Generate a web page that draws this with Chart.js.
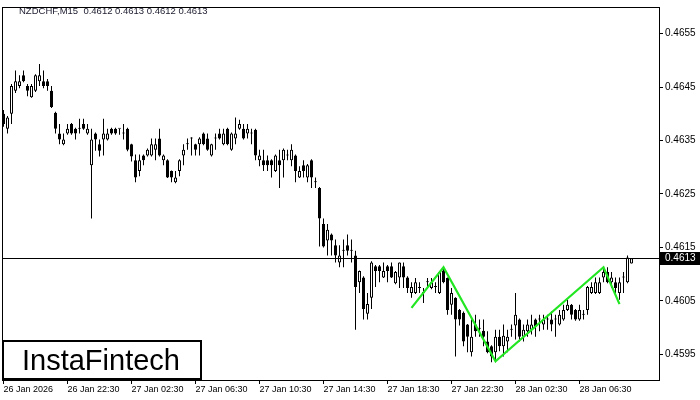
<!DOCTYPE html>
<html>
<head>
<meta charset="utf-8">
<script src="https://cdn.jsdelivr.net/npm/chart.js@4.4.1/dist/chart.umd.min.js"></script>
<style>
  html, body { margin: 0; padding: 0; background: #fff; }
  #wrap { width: 700px; height: 400px; }
</style>
</head>
<body>
<div id="wrap"><canvas id="chart" width="700" height="400"></canvas></div>
<script>
// ---------- data (M15 bars, 26 Jan 18:30 onwards) ----------
const headerText = "NZDCHF,M15  0.4612 0.4613 0.4612 0.4613";
const brandText = "InstaFintech";

const opens = [
  0.46400, 0.46372, 0.46400, 0.46443, 0.46452, 0.46472, 0.46452, 0.46431, 0.46443, 0.46461,
  0.46461, 0.46461, 0.46443, 0.46402, 0.46363, 0.46343, 0.46363, 0.46381, 0.46372, 0.46372,
  0.46381, 0.46363, 0.46304, 0.46363, 0.46343, 0.46352, 0.46352, 0.46372, 0.46372, 0.46372,
  0.46363, 0.46372, 0.46343, 0.46313, 0.46293, 0.46322, 0.46322, 0.46322, 0.46333, 0.46354,
  0.46313, 0.46313, 0.46293, 0.46272, 0.46293, 0.46322, 0.46343, 0.46354, 0.46343, 0.46343,
  0.46363, 0.46354, 0.46322, 0.46354, 0.46363, 0.46343, 0.46372, 0.46333, 0.46354, 0.46372,
  0.46372, 0.46363, 0.46363, 0.46370, 0.46313, 0.46313, 0.46313, 0.46313, 0.46293, 0.46313,
  0.46313, 0.46322, 0.46313, 0.46322, 0.46281, 0.46304, 0.46281, 0.46313, 0.46272, 0.46261,
  0.46194, 0.46163, 0.46174, 0.46154, 0.46122, 0.46144, 0.46154, 0.46144, 0.46135, 0.46085,
  0.46094, 0.46026, 0.46056, 0.46115, 0.46115, 0.46094, 0.46115, 0.46115, 0.46083, 0.46094,
  0.46115, 0.46094, 0.46065, 0.46065, 0.46074, 0.46065, 0.46085, 0.46074, 0.46076, 0.46065,
  0.46107, 0.46093, 0.46043, 0.46056, 0.46033, 0.46028, 0.46006, 0.45954, 0.46006, 0.45998,
  0.45994, 0.45974, 0.45965, 0.45954, 0.45983, 0.45965, 0.45974, 0.45996, 0.46004, 0.46015,
  0.45983, 0.45993, 0.45996, 0.46015, 0.46015, 0.46006, 0.46015, 0.46015, 0.46015, 0.46006,
  0.46015, 0.46033, 0.46043, 0.46033, 0.46015, 0.46024, 0.46033, 0.46065, 0.46065, 0.46065,
  0.46094, 0.46104, 0.46085, 0.46085, 0.46065, 0.46094, 0.46085, 0.46120
];
const highs = [
  0.46407, 0.46396, 0.46456, 0.46481, 0.46472, 0.46481, 0.46456, 0.46456, 0.46474, 0.46493,
  0.46481, 0.46465, 0.46452, 0.46404, 0.46381, 0.46363, 0.46381, 0.46383, 0.46374, 0.46391,
  0.46391, 0.46381, 0.46372, 0.46365, 0.46352, 0.46391, 0.46372, 0.46374, 0.46374, 0.46372,
  0.46381, 0.46374, 0.46344, 0.46324, 0.46324, 0.46324, 0.46335, 0.46354, 0.46354, 0.46372,
  0.46324, 0.46315, 0.46294, 0.46293, 0.46315, 0.46343, 0.46354, 0.46356, 0.46344, 0.46356,
  0.46365, 0.46363, 0.46344, 0.46363, 0.46372, 0.46372, 0.46374, 0.46365, 0.46393, 0.46389,
  0.46381, 0.46381, 0.46372, 0.46372, 0.46333, 0.46333, 0.46322, 0.46315, 0.46324, 0.46333,
  0.46335, 0.46333, 0.46343, 0.46324, 0.46302, 0.46313, 0.46306, 0.46315, 0.46281, 0.46263,
  0.46204, 0.46194, 0.46176, 0.46165, 0.46154, 0.46165, 0.46174, 0.46165, 0.46144, 0.46107,
  0.46096, 0.46065, 0.46124, 0.46117, 0.46117, 0.46122, 0.46117, 0.46122, 0.46106, 0.46122,
  0.46122, 0.46096, 0.46085, 0.46093, 0.46085, 0.46074, 0.46093, 0.46093, 0.46085, 0.46106,
  0.46115, 0.46094, 0.46074, 0.46057, 0.46035, 0.46030, 0.46007, 0.46015, 0.46024, 0.46015,
  0.46015, 0.45993, 0.45967, 0.45996, 0.45996, 0.46006, 0.45996, 0.46006, 0.46065, 0.46017,
  0.46006, 0.46015, 0.46024, 0.46017, 0.46024, 0.46024, 0.46024, 0.46030, 0.46024, 0.46033,
  0.46043, 0.46052, 0.46044, 0.46035, 0.46043, 0.46033, 0.46078, 0.46085, 0.46094, 0.46094,
  0.46113, 0.46113, 0.46104, 0.46094, 0.46094, 0.46104, 0.46135, 0.46130
];
const lows = [
  0.46376, 0.46363, 0.46381, 0.46439, 0.46448, 0.46459, 0.46433, 0.46430, 0.46441, 0.46452,
  0.46448, 0.46443, 0.46411, 0.46363, 0.46343, 0.46341, 0.46361, 0.46361, 0.46352, 0.46363,
  0.46370, 0.46361, 0.46204, 0.46331, 0.46320, 0.46322, 0.46350, 0.46361, 0.46361, 0.46361,
  0.46352, 0.46330, 0.46311, 0.46272, 0.46283, 0.46304, 0.46320, 0.46320, 0.46313, 0.46320,
  0.46304, 0.46280, 0.46272, 0.46270, 0.46283, 0.46304, 0.46333, 0.46322, 0.46322, 0.46322,
  0.46341, 0.46331, 0.46320, 0.46333, 0.46352, 0.46341, 0.46341, 0.46331, 0.46343, 0.46370,
  0.46352, 0.46354, 0.46343, 0.46313, 0.46302, 0.46293, 0.46293, 0.46281, 0.46291, 0.46261,
  0.46281, 0.46313, 0.46302, 0.46272, 0.46280, 0.46281, 0.46272, 0.46261, 0.46261, 0.46152,
  0.46150, 0.46135, 0.46135, 0.46122, 0.46113, 0.46113, 0.46135, 0.46122, 0.45996, 0.46065,
  0.46015, 0.46015, 0.46035, 0.46076, 0.46085, 0.46093, 0.46085, 0.46093, 0.46081, 0.46074,
  0.46074, 0.46065, 0.46056, 0.46063, 0.46065, 0.46046, 0.46074, 0.46072, 0.46065, 0.46063,
  0.46083, 0.46024, 0.46024, 0.45946, 0.46004, 0.45965, 0.45954, 0.45946, 0.45983, 0.45983,
  0.45965, 0.45952, 0.45935, 0.45935, 0.45956, 0.45946, 0.45954, 0.45983, 0.45978, 0.45974,
  0.45974, 0.45983, 0.45987, 0.45983, 0.45993, 0.45996, 0.45996, 0.45993, 0.45983, 0.46004,
  0.46013, 0.46031, 0.46015, 0.46013, 0.46013, 0.46015, 0.46024, 0.46063, 0.46063, 0.46063,
  0.46085, 0.46083, 0.46074, 0.46065, 0.46052, 0.46065, 0.46083, 0.46120
];
const closes = [
  0.46381, 0.46393, 0.46452, 0.46461, 0.46461, 0.46461, 0.46443, 0.46452, 0.46472, 0.46472,
  0.46452, 0.46452, 0.46413, 0.46372, 0.46352, 0.46352, 0.46372, 0.46363, 0.46363, 0.46372,
  0.46372, 0.46372, 0.46352, 0.46352, 0.46331, 0.46363, 0.46363, 0.46363, 0.46363, 0.46372,
  0.46363, 0.46333, 0.46320, 0.46281, 0.46313, 0.46313, 0.46333, 0.46343, 0.46343, 0.46322,
  0.46322, 0.46281, 0.46281, 0.46281, 0.46313, 0.46333, 0.46343, 0.46354, 0.46333, 0.46354,
  0.46343, 0.46333, 0.46343, 0.46354, 0.46354, 0.46363, 0.46343, 0.46363, 0.46363, 0.46381,
  0.46354, 0.46372, 0.46363, 0.46322, 0.46322, 0.46304, 0.46304, 0.46304, 0.46322, 0.46304,
  0.46333, 0.46322, 0.46333, 0.46293, 0.46293, 0.46293, 0.46304, 0.46281, 0.46272, 0.46204,
  0.46152, 0.46183, 0.46163, 0.46135, 0.46135, 0.46144, 0.46144, 0.46144, 0.46076, 0.46106,
  0.46035, 0.46044, 0.46122, 0.46106, 0.46106, 0.46106, 0.46106, 0.46094, 0.46104, 0.46122,
  0.46094, 0.46074, 0.46076, 0.46085, 0.46074, 0.46065, 0.46085, 0.46085, 0.46076, 0.46104,
  0.46085, 0.46033, 0.46065, 0.46015, 0.46015, 0.45974, 0.45983, 0.45983, 0.45993, 0.45998,
  0.45983, 0.45954, 0.45946, 0.45983, 0.45965, 0.45985, 0.45983, 0.45996, 0.46024, 0.45983,
  0.45996, 0.46006, 0.46006, 0.46002, 0.46015, 0.46015, 0.46015, 0.46006, 0.46015, 0.46024,
  0.46033, 0.46043, 0.46024, 0.46015, 0.46033, 0.46024, 0.46076, 0.46076, 0.46085, 0.46085,
  0.46104, 0.46085, 0.46094, 0.46074, 0.46085, 0.46094, 0.46131, 0.46130
];

// time axis: a label every 16 bars (4 hours)
const timeLabels = ["26 Jan 2026", "26 Jan 22:30", "27 Jan 02:30", "27 Jan 06:30", "27 Jan 10:30",
                    "27 Jan 14:30", "27 Jan 18:30", "27 Jan 22:30", "28 Jan 02:30", "28 Jan 06:30"];
const timeTickBars = [0, 16, 32, 48, 64, 80, 96, 112, 128, 144];
const priceTicks = [0.4595, 0.4605, 0.4615, 0.4625, 0.4635, 0.4645, 0.4655];
const lastPrice = 0.4613;

// inverse head & shoulders outline
const patternBars = [102, 110, 123, 150, 154];
const patternPrices = [0.46037, 0.46113, 0.45937, 0.46113, 0.46044];

// ---------- chart ----------
Chart.defaults.font.family = "'Liberation Sans', Arial, sans-serif";
Chart.defaults.color = "#000";

const barIdx = opens.map((_, i) => i);
const isBull = barIdx.map((i) => closes[i] > opens[i]);

const overlay = {
  id: "overlay",
  afterDatasetsDraw(chart) {
    const { ctx, chartArea: a, scales } = chart;
    const py = Math.round(scales.y.getPixelForValue(lastPrice)) + 0.5;
    ctx.save();
    ctx.strokeStyle = "#000";
    ctx.lineWidth = 1;
    ctx.beginPath();
    ctx.moveTo(a.left, py);
    ctx.lineTo(a.right, py);
    ctx.stroke();
    ctx.restore();
  },
  afterDraw(chart) {
    const { ctx, chartArea: a, scales } = chart;
    ctx.save();
    // frame
    ctx.strokeStyle = "#000";
    ctx.lineWidth = 1;
    ctx.strokeRect(a.left - 0.5, a.top - 0.5, a.right - a.left + 1, a.bottom - a.top + 1);

    // symbol header
    ctx.fillStyle = "#1a1a2e";
    ctx.font = "9.5px 'Liberation Sans', Arial, sans-serif";
    ctx.textBaseline = "middle";
    ctx.textAlign = "left";
    ctx.fillText(headerText, 19, 11);

    // last price tag on the axis
    const py = Math.round(scales.y.getPixelForValue(lastPrice));
    ctx.fillStyle = "#000";
    ctx.fillRect(a.right + 1, py - 6, 700 - a.right - 1, 13);
    ctx.fillStyle = "#fff";
    ctx.font = "10px 'Liberation Sans', Arial, sans-serif";
    ctx.fillText(lastPrice.toFixed(4), a.right + 6, py + 0.5);

    // brand box
    ctx.fillStyle = "#fff";
    ctx.fillRect(3, 341, 198, 38);
    ctx.lineWidth = 2;
    ctx.strokeStyle = "#000";
    ctx.strokeRect(3, 341, 198, 38);
    ctx.fillStyle = "#000";
    ctx.font = "29px 'Liberation Sans', Arial, sans-serif";
    ctx.textBaseline = "alphabetic";
    ctx.fillText(brandText, 22, 370);
    ctx.restore();
  },
};

new Chart(document.getElementById("chart"), {
  type: "bar",
  data: {
    datasets: [
      {
        type: "line",
        label: "pattern",
        data: patternBars.map((b, k) => ({ x: b, y: patternPrices[k] })),
        borderColor: "#22e622",
        borderWidth: 2.2,
        pointRadius: 0,
        tension: 0,
        order: -1,
      },
      {
        label: "body",
        data: barIdx.map((i) => ({ x: i, y: [opens[i], closes[i]] })),
        backgroundColor: barIdx.map((i) => (isBull[i] ? "#fff" : "#000")),
        borderColor: "#000",
        borderWidth: 1,
        borderSkipped: false,
        barThickness: 3,
        minBarLength: 1,
        inflateAmount: 0,
        grouped: false,
        order: 0,
      },
      {
        label: "wick",
        data: barIdx.map((i) => ({ x: i, y: [lows[i], highs[i]] })),
        backgroundColor: "#000",
        borderWidth: 0,
        barThickness: 1,
        inflateAmount: 0,
        grouped: false,
        order: 1,
      },
    ],
  },
  options: {
    responsive: false,
    animation: false,
    events: [],
    layout: { padding: { left: 3, top: 4, right: 0, bottom: 0 } },
    plugins: { legend: { display: false }, tooltip: { enabled: false }, title: { display: false } },
    scales: {
      x: {
        type: "linear",
        offset: false,
        min: -0.125,
        max: 163.875,
        afterFit: (s) => { s.height = 20; },
        afterBuildTicks: (s) => { s.ticks = timeTickBars.map((v) => ({ value: v })); },
        grid: { offset: false, drawOnChartArea: false, drawTicks: true, tickLength: 4, color: "#000" },
        border: { display: false },
        ticks: {
          autoSkip: false, maxRotation: 0, minRotation: 0, align: "start", padding: 0,
          font: { size: 9 },
          callback: (v, i) => timeLabels[i],
        },
      },
      y: {
        position: "right",
        beginAtZero: false,
        min: 0.45902,
        max: 0.46598,
        afterFit: (s) => { s.width = 41; },
        afterBuildTicks: (s) => { s.ticks = priceTicks.map((v) => ({ value: v })); },
        grid: { drawOnChartArea: false, drawTicks: true, tickLength: 4, color: "#000" },
        border: { display: false },
        ticks: { padding: 2, font: { size: 10 }, callback: (v) => v.toFixed(4) },
      },
    },
  },
  plugins: [overlay],
});
</script>
</body>
</html>
